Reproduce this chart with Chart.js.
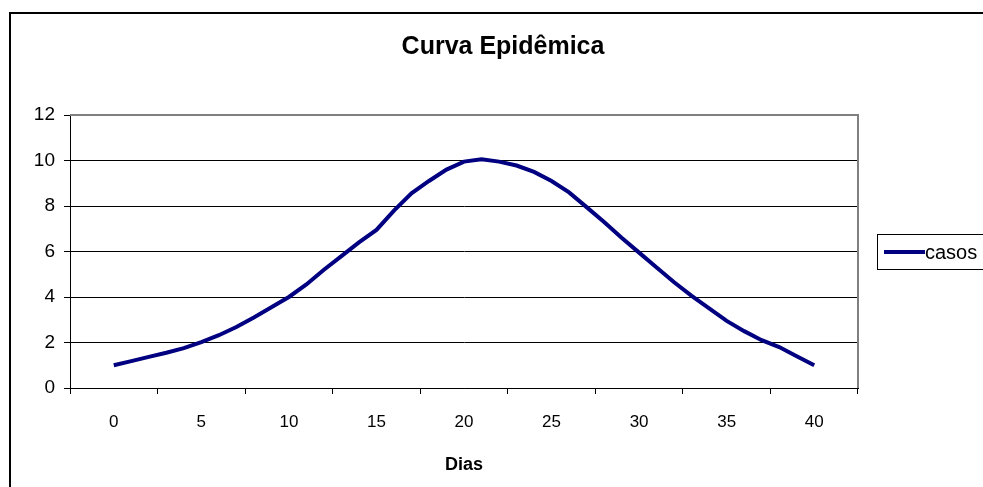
<!DOCTYPE html>
<html>
<head>
<meta charset="utf-8">
<title>Curva Epidêmica</title>
<script src="https://cdn.jsdelivr.net/npm/chart.js@4/dist/chart.umd.min.js"></script>
<style>
  html, body { margin: 0; padding: 0; background: #fff; }
  #wrap { width: 983px; height: 487px; }
</style>
</head>
<body>
<div id="wrap"><canvas id="chart"></canvas></div>
<script>
// data
const dias = [0, 1, 2, 3, 4, 5, 6, 7, 8, 9, 10, 11, 12, 13, 14, 15, 16, 17, 18, 19, 20,
  21, 22, 23, 24, 25, 26, 27, 28, 29, 30, 31, 32, 33, 34, 35, 36, 37, 38, 39, 40];
const casos = [1.0, 1.18, 1.37, 1.55, 1.75, 2.02, 2.32, 2.68, 3.1, 3.55, 4.0,
  4.55, 5.2, 5.8, 6.4, 6.95, 7.8, 8.56, 9.1, 9.6, 9.95,
  10.05, 9.95, 9.78, 9.5, 9.1, 8.6, 7.95, 7.3, 6.6, 5.95,
  5.3, 4.65, 4.05, 3.5, 2.95, 2.5, 2.1, 1.8, 1.4, 1.0];
const xTicks = [0, 5, 10, 15, 20, 25, 30, 35, 40];
const yTicks = [0, 2, 4, 6, 8, 10, 12];

const chartTitle = "Curva Epidêmica";
const xTitle = "Dias";
const seriesName = "casos";
const lineColor = "#000080";
const fontFamily = "'Liberation Sans', Arial, sans-serif";

// outer frame, gray plot border and the boxed legend (like excel does)
const excelLook = {
  id: "excelLook",
  afterLayout(chart) {
    // title is centred on the whole frame, which runs past the right edge
    const t = chart.titleBlock;
    t.left = 2 * 503 - t.right;
  },
  beforeDraw(chart) {
    const ctx = chart.ctx;
    ctx.save();
    ctx.strokeStyle = "#000";
    ctx.lineWidth = 2;
    ctx.strokeRect(10, 13, 1000, 500);
    ctx.restore();
  },
  beforeDatasetsDraw(chart) {
    const { ctx, chartArea } = chart;
    ctx.save();
    ctx.strokeStyle = "#808080";
    ctx.lineWidth = 2;
    ctx.beginPath();
    ctx.moveTo(chartArea.left, chartArea.top);
    ctx.lineTo(chartArea.right, chartArea.top);
    ctx.lineTo(chartArea.right, chartArea.bottom);
    ctx.stroke();
    ctx.restore();
  },
  afterDraw(chart) {
    const ctx = chart.ctx;
    const ds = chart.data.datasets[0];
    ctx.save();
    ctx.strokeStyle = "#000";
    ctx.lineWidth = 1;
    ctx.strokeRect(877.5, 234.5, 200, 35);
    ctx.strokeStyle = ds.borderColor;
    ctx.lineWidth = 4;
    ctx.beginPath();
    ctx.moveTo(884, 252);
    ctx.lineTo(925, 252);
    ctx.stroke();
    ctx.fillStyle = "#000";
    ctx.font = "20px " + fontFamily;
    ctx.textBaseline = "middle";
    ctx.fillText(ds.label, 925, 253);
    ctx.restore();
  }
};

Chart.defaults.font.family = fontFamily;
Chart.defaults.color = "#000";

const myChart = new Chart(document.getElementById("chart"), {
  type: "line",
  data: {
    datasets: [{
      label: seriesName,
      data: dias.map((d, i) => ({ x: d, y: casos[i] })),
      borderColor: lineColor,
      backgroundColor: lineColor,
      borderWidth: 4,
      pointRadius: 0,
      tension: 0,
      fill: false
    }]
  },
  options: {
    responsive: true,
    maintainAspectRatio: false,
    animation: false,
    events: [],
    layout: { padding: { left: 0, right: 125, top: 0, bottom: 0 } },
    plugins: {
      legend: { display: false },
      tooltip: { enabled: false },
      title: {
        display: true,
        text: chartTitle,
        color: "#000",
        font: { size: 25, weight: "bold" },
        padding: { top: 32, bottom: 53 }
      }
    },
    scales: {
      x: {
        type: "linear",
        min: -2.5,
        max: 42.5,
        afterBuildTicks(scale) {
          scale.ticks = xTicks.map(v => ({ value: v }));
        },
        afterFit(scale) { scale.height = 99; },
        grid: {
          offset: true,
          drawOnChartArea: false,
          drawTicks: true,
          tickLength: 6,
          color: "#000"
        },
        border: { color: "#000", width: 1 },
        ticks: { font: { size: 17 }, padding: 18, color: "#000", maxRotation: 0 },
        title: {
          display: true,
          text: xTitle,
          color: "#000",
          font: { size: 18, weight: "bold" },
          padding: { top: 0, bottom: 11 }
        }
      },
      y: {
        min: 0,
        max: 12,
        afterBuildTicks(scale) {
          scale.ticks = yTicks.map(v => ({ value: v }));
        },
        afterFit(scale) { scale.width = 70; },
        grid: { color: "#000", tickLength: 6, drawTicks: true },
        border: { color: "#000", width: 1 },
        ticks: { font: { size: 19 }, padding: 9, color: "#000" }
      }
    }
  },
  plugins: [excelLook]
});
</script>
</body>
</html>
